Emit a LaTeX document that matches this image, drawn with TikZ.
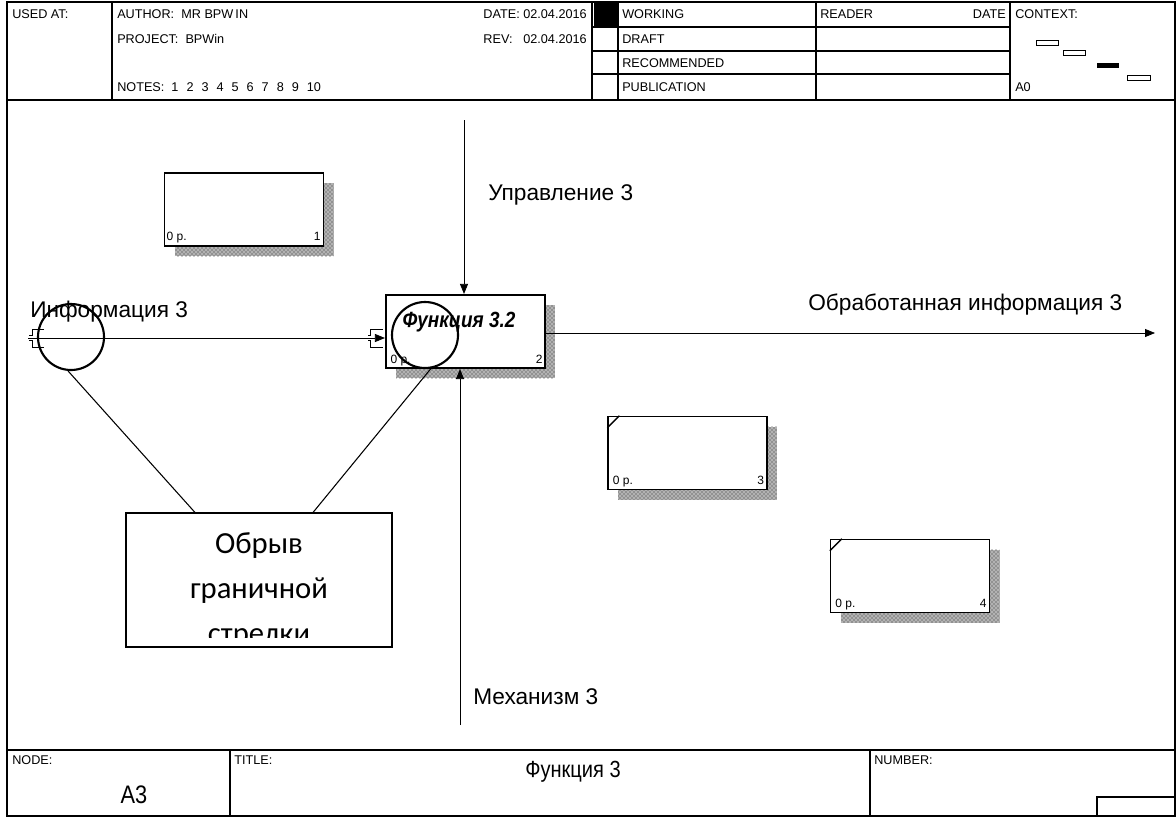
\documentclass[tikz,border=0pt]{standalone}
\usepackage{fontspec}
\setmainfont{Liberation Sans}
\newfontfamily\calib{Carlito}
\definecolor{idefline}{RGB}{0,0,0}
\definecolor{idefshade}{RGB}{40,40,40}
\usetikzlibrary{arrows.meta,positioning,patterns,shadows}

\begin{document}
\begin{tikzpicture}[x=0.75pt, y=-0.75pt,
  hdr/.style={font=\fontsize{9.5}{11}\selectfont, inner sep=0, anchor=base west},
  abox/.style={rectangle, draw=idefline, line width=1.1pt, fill=white,
               minimum width=119.25pt, minimum height=54.75pt, inner sep=0,
               general shadow={shadow xshift=7.5pt, shadow yshift=-7.5pt, fill=black!30,
                               postaction={pattern=crosshatch dots, pattern color=idefshade}}},
  bnum/.style={font=\fontsize{9}{10}\selectfont, inner sep=0},
  alab/.style={font=\fontsize{17}{20}\selectfont, inner sep=0, anchor=west},
  farr/.style={-{Triangle[length=7.5pt, width=6pt]}, line width=0.6pt},
  tun/.style={line width=0.7pt},
  ring/.style={circle, draw, line width=1.6pt, minimum size=49.5pt, inner sep=0},
  cline/.style={line width=0.8pt}
]
\useasboundingbox (0,0) rectangle (1176,818);

% Frame and header
\draw[line width=0.8pt] (7,2) rectangle (1175,816);
\draw[line width=0.8pt] (7,100) -- (1175,100);
\draw[line width=0.8pt] (112,2) -- (112,100) (592,2) -- (592,100) (618,2) -- (618,100)
  (816,2) -- (816,100) (1010,2) -- (1010,100);
\draw[line width=0.8pt] (592,27) -- (1010,27) (592,51) -- (1010,51) (592,74) -- (1010,74);
\fill (594,2) rectangle (618,27);

\node[hdr] (used) at (12,18.5) {USED AT:};
\node[hdr] (auth) at (117,18.5) {AUTHOR:\ \ MR BPW\,IN};
\node[hdr] (proj) at (117,43.5) {PROJECT:\ \ BPWin};
\node[hdr] (notes) at (117,91.5) {NOTES:\ \ 1\hspace{6pt}2\hspace{6pt}3\hspace{6pt}4\hspace{6pt}5\hspace{6pt}6\hspace{6pt}7\hspace{6pt}8\hspace{6pt}9\hspace{6pt}10};
\node[hdr, anchor=base east] (date) at (587,18.5) {DATE:\ 02.04.2016};
\node[hdr, anchor=base east] (rval) at (587,43.5) {02.04.2016};
\node[hdr] (rev) at (date.base west |- rval.base) {REV:};
\node[hdr] (work) at (622,18.5) {WORKING};
\node[hdr] (draft) at (622,43.5) {DRAFT};
\node[hdr] (recom) at (622,67.5) {RECOMMENDED};
\node[hdr] (publ) at (622,91.5) {PUBLICATION};
\node[hdr] (reader) at (820,18.5) {READER};
\node[hdr, anchor=base east] (rdate) at (1006,18.5) {DATE};
\node[hdr] (ctx) at (1015,18.5) {CONTEXT:};
\node[hdr] (anull) at (1015,91.5) {A0};

% Context map
\draw[line width=0.6pt] (1036,40) rectangle (1058,45);
\draw[line width=0.6pt] (1063,50) rectangle (1085,55);
\fill (1097,63) rectangle (1119,68);
\draw[line width=0.6pt] (1127,75) rectangle (1150,80);

% Footer
\draw[line width=0.8pt] (7,750) -- (1175,750);
\draw[line width=0.8pt] (230,750) -- (230,816) (870,750) -- (870,816);
\draw[line width=0.8pt] (1097,816) |- (1175,797);
\node[hdr] (fnode) at (12,764) {NODE:};
\node[hdr] (ftitle) at (234,764) {TITLE:};
\node[hdr] (fnum) at (874,764) {NUMBER:};
\node[inner sep=0, font=\fontsize{19}{22}\selectfont] (anode) at (134,795) {\scalebox{0.86}[1]{A3}};
\node[inner sep=0, font=\fontsize{17.5}{20}\selectfont] (tname) at (573,772) {\scalebox{0.86}[1]{Функция 3}};

% Activity boxes
\node[abox] (b1) at (244,209.5) {};
\node[abox, line width=1.6pt] (b2) at (465.5,331.5) {};
\node[abox] (b3) at (687.5,453) {};
\node[abox] (b4) at (910,576) {};
\draw[line width=1.1pt] ([yshift=-9pt]b3.north west) -- ([xshift=9pt]b3.north west);
\draw[line width=1.1pt] ([yshift=-9pt]b4.north west) -- ([xshift=9pt]b4.north west);

\node[bnum, anchor=base west] (b1p) at ([shift={(2pt,4.5pt)}]b1.south west) {0 p.};
\node[bnum, anchor=base east] (b1n) at ([shift={(-2.5pt,4.5pt)}]b1.south east) {1};
\node[bnum, anchor=base west] (b2p) at ([shift={(4pt,4.5pt)}]b2.south west) {0 p.};
\node[bnum, anchor=base east] (b2n) at ([shift={(-2.5pt,4.5pt)}]b2.south east) {2};
\node[bnum, anchor=base west] (b3p) at ([shift={(4pt,4.5pt)}]b3.south west) {0 p.};
\node[bnum, anchor=base east] (b3n) at ([shift={(-2.5pt,4.5pt)}]b3.south east) {3};
\node[bnum, anchor=base west] (b4p) at ([shift={(4pt,4.5pt)}]b4.south west) {0 p.};
\node[bnum, anchor=base east] (b4n) at ([shift={(-2.5pt,4.5pt)}]b4.south east) {4};
\node[inner sep=0, font=\fontsize{16.5}{19}\selectfont\bfseries\itshape] (b2t) at (459,322)
  {\scalebox{0.86}[1]{Функция 3.2}};

% Arrows
\coordinate (inp) at (28,338);
\coordinate (outp) at (1155,333);
\coordinate (ctl) at (464,120);
\coordinate (mech) at (460,725);
\draw[farr] (inp) -- (inp -| b2.west);
\draw[farr] (outp -| b2.east) -- (outp);
\draw[farr] (ctl) -- (ctl |- b2.north);
\draw[farr] (mech) -- (mech |- b2.south);

% Tunnel brackets
\draw[tun] ([shift={(12pt,6.75pt)}]inp) -| ([shift={(3pt,2pt)}]inp) -- ++(-2pt,0);
\draw[tun] ([shift={(12pt,-6.75pt)}]inp) -| ([shift={(3pt,-2pt)}]inp) -- ++(-2pt,0);
\draw[tun] ([shift={(-1.5pt,6.75pt)}]inp -| b2.west) -| ([shift={(-11pt,2pt)}]inp -| b2.west) -- ++(-2pt,0);
\draw[tun] ([shift={(-1.5pt,-6.75pt)}]inp -| b2.west) -| ([shift={(-11pt,-2pt)}]inp -| b2.west) -- ++(-2pt,0);

% Arrow labels
\node[alab] (lctl) at (488,195) {Управление 3};
\node[alab] (linp) at (30,312) {Информация 3};
\node[alab] (lout) at (808,305) {Обработанная информация 3};
\node[alab] (lmech) at (473,697) {Механизм 3};

% Callout
\node[ring] (c1) at (71,337) {};
\node[ring] (c2) at (425,335) {};
\node[draw, line width=0.8pt, minimum width=199.5pt, minimum height=100.5pt, inner sep=0] (note) at (259,580) {};
\draw[cline] (c1.-95) -- ([xshift=-48pt]note.north);
\draw[cline] (c2.-80) -- ([xshift=40.5pt]note.north);
\begin{scope}
  \clip (note.north west) rectangle ([yshift=7.5pt]note.south east);
  \node[inner sep=0, anchor=base, font=\calib\fontsize{23}{28}\selectfont] (n1) at (259,553) {Обрыв};
  \node[inner sep=0, anchor=base, font=\calib\fontsize{23}{28}\selectfont] (n2) at (259,598) {граничной};
  \node[inner sep=0, anchor=base, font=\calib\fontsize{23}{28}\selectfont] (n3) at (259,643) {стрелки};
\end{scope}
\end{tikzpicture}
\end{document}
